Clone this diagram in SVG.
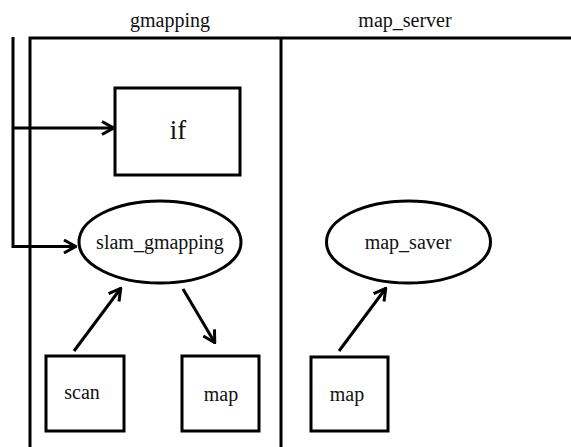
<svg xmlns="http://www.w3.org/2000/svg" width="571" height="447" viewBox="0 0 571 447" font-family="'Liberation Serif', 'Times New Roman', 'DejaVu Serif', serif">
<defs>
<style>
.s{fill:none;stroke:#000;stroke-width:3}
.n{fill:#fff;stroke:#000;stroke-width:3}
text{fill:#111;text-anchor:middle}
.t{font-size:20px}
</style>
<marker id="ah" viewBox="0 0 16 16" refX="15" refY="8" markerWidth="16" markerHeight="16" markerUnits="userSpaceOnUse" orient="auto">
<path d="M3,1.5 L14.5,8 L3,14.5" fill="none" stroke="#000" stroke-width="3"/>
</marker>
</defs>
<g id="frame">
<path class="s" d="M30,447 V38 H571 M281,38 V447"/>
<text class="t" x="170" y="27">gmapping</text>
<text class="t" x="405" y="27">map_server</text>
</g>
<g id="if">
<rect class="n" x="115" y="88" width="125" height="87"/>
<text x="178" y="139" font-size="27">if</text>
</g>
<g id="slam_gmapping">
<ellipse class="n" cx="160" cy="242" rx="81" ry="41"/>
<text class="t" x="160" y="249">slam_gmapping</text>
</g>
<g id="map_saver">
<ellipse class="n" cx="408.5" cy="242" rx="82" ry="41"/>
<text class="t" x="408" y="249">map_saver</text>
</g>
<g id="scan">
<rect class="n" x="46" y="356" width="78" height="75"/>
<text class="t" x="82" y="399">scan</text>
</g>
<g id="map1">
<rect class="n" x="182" y="356" width="77" height="75"/>
<text class="t" x="221" y="401">map</text>
</g>
<g id="map2">
<rect class="n" x="311" y="357" width="77" height="74"/>
<text class="t" x="347" y="401">map</text>
</g>
<g id="connectors">
<path class="s" d="M13,37 V246.5 H76" marker-end="url(#ah)"/>
<path class="s" d="M13,128 H114" marker-end="url(#ah)"/>
<path class="s" d="M74,351 L121,288" marker-end="url(#ah)"/>
<path class="s" d="M183,289 L215,343" marker-end="url(#ah)"/>
<path class="s" d="M339,351 L386,288" marker-end="url(#ah)"/>
</g>
</svg>
